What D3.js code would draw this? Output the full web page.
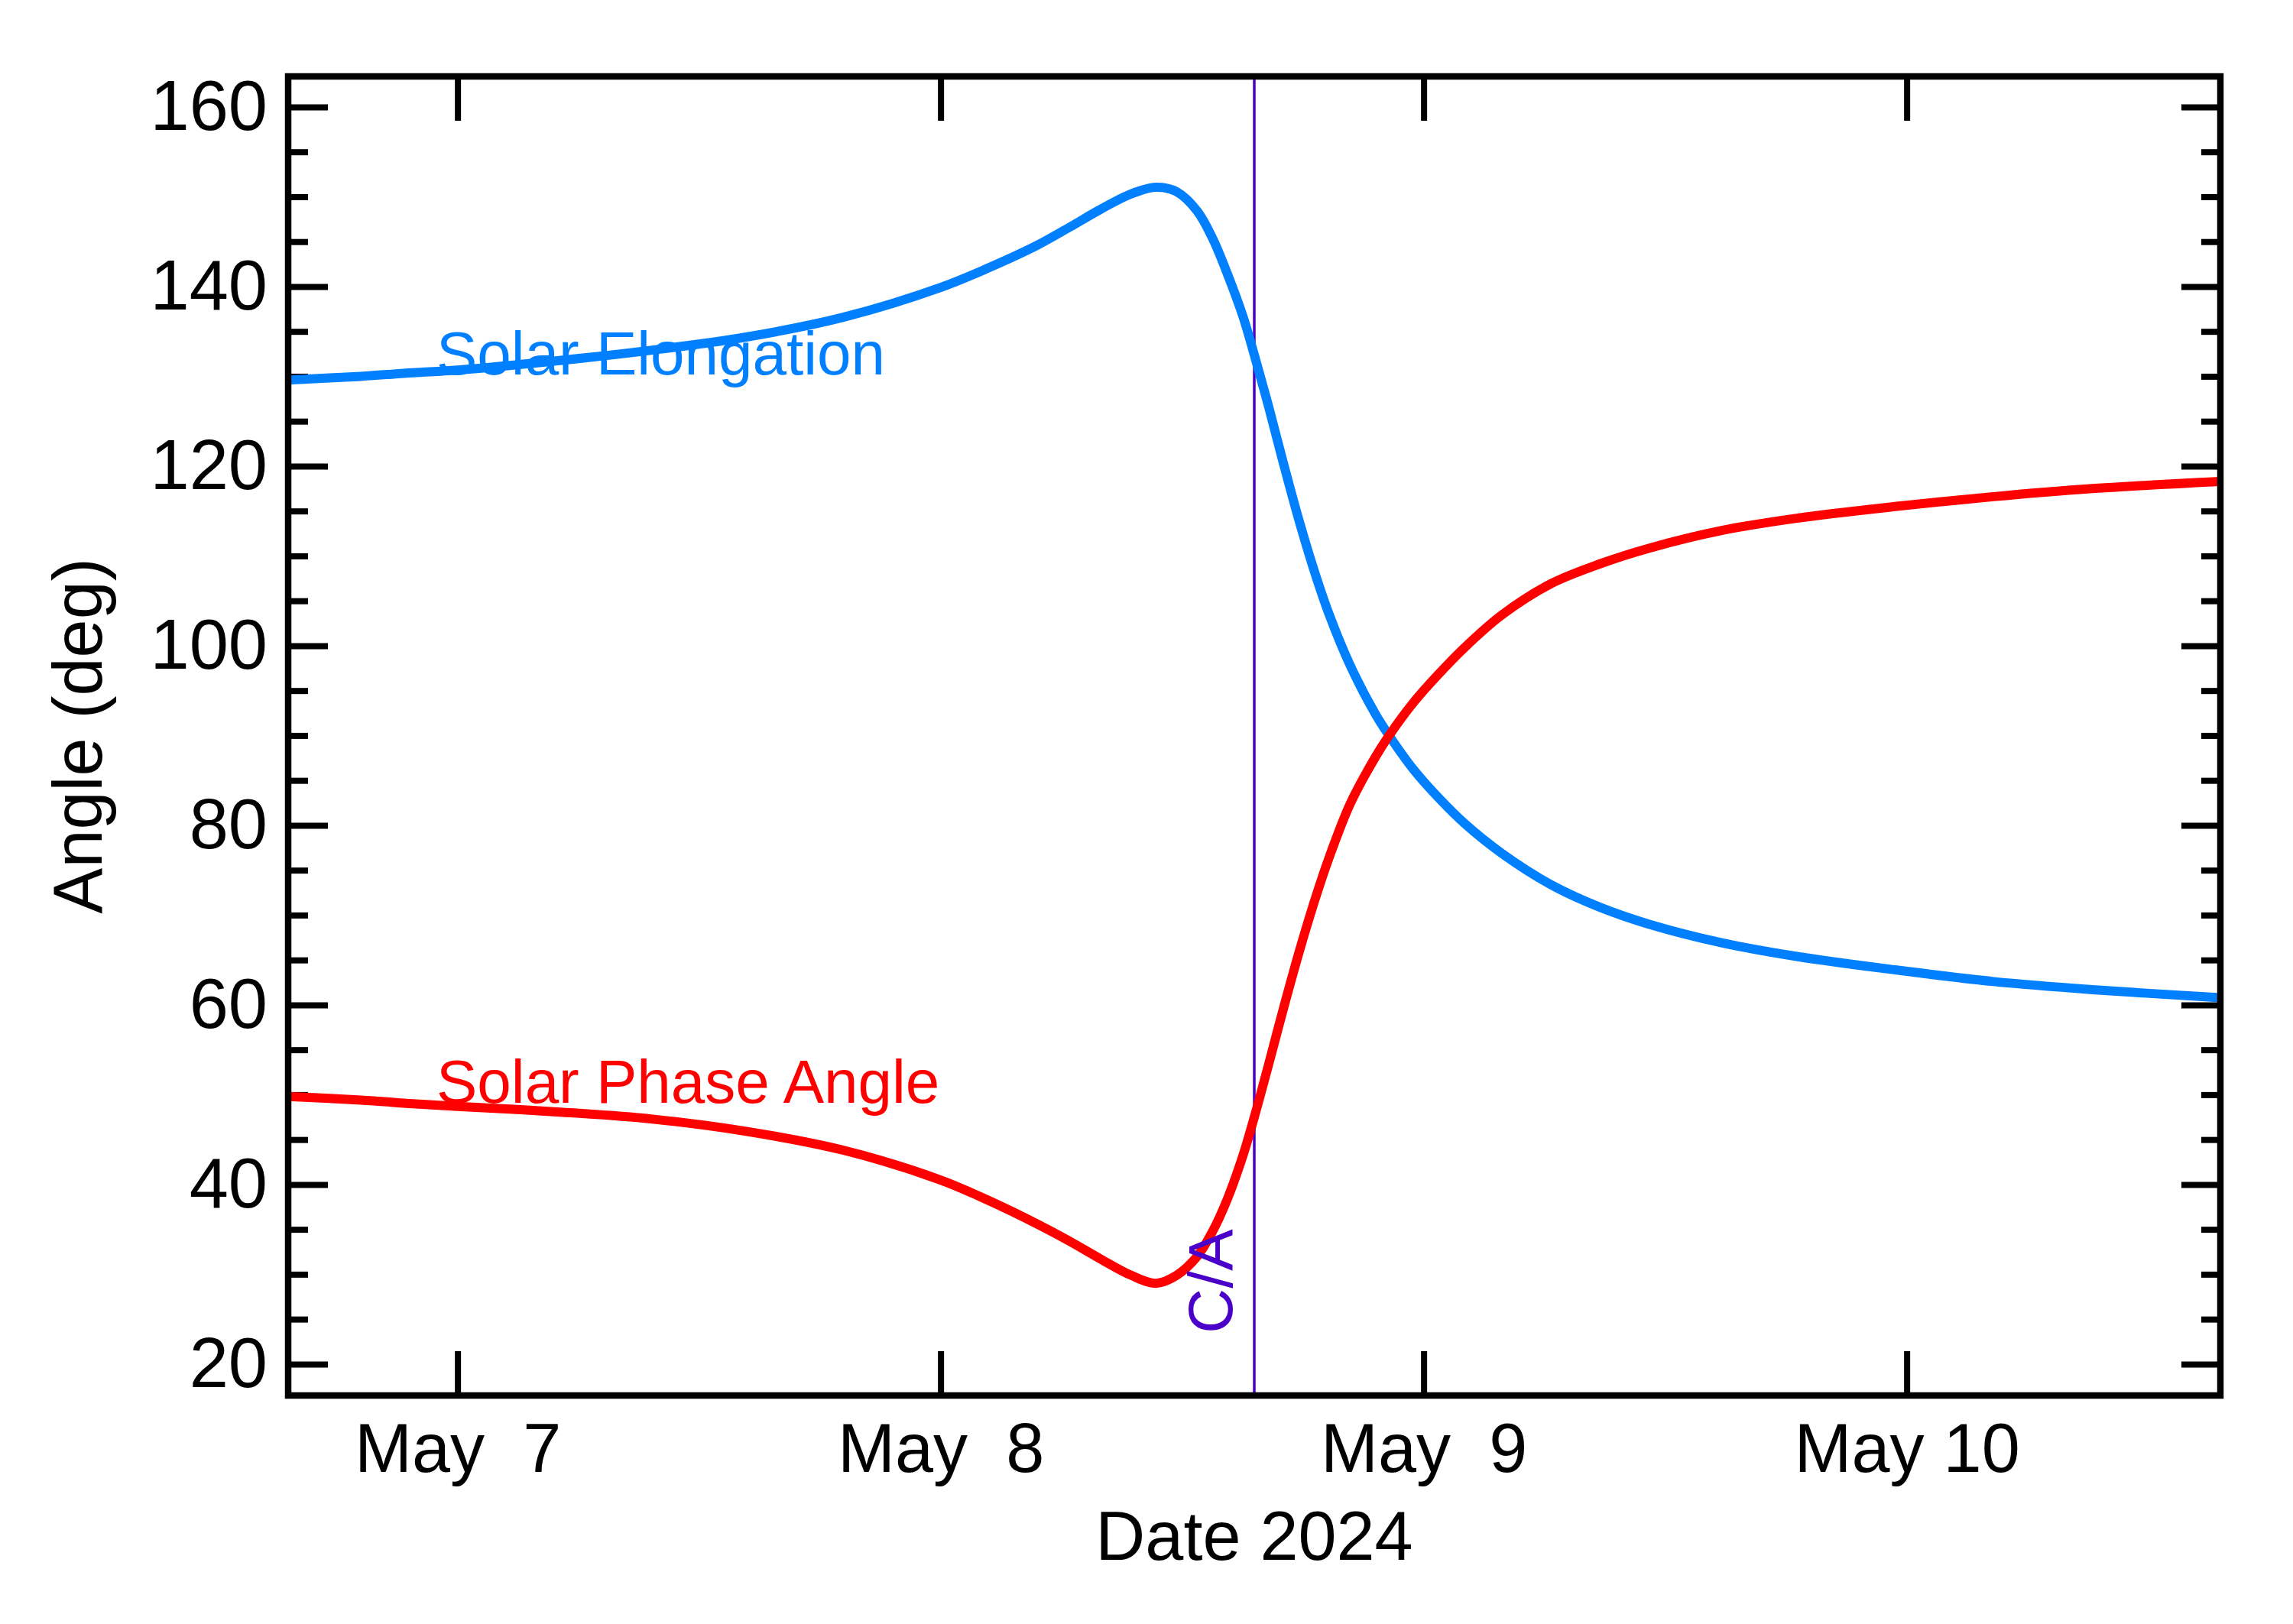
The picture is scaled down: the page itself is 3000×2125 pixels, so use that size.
<!DOCTYPE html>
<html>
<head>
<meta charset="utf-8">
<script src="https://cdn.jsdelivr.net/npm/d3@7"></script>
<style>
  html, body { margin: 0; padding: 0; background: #ffffff; }
  svg { display: block; }
  text { font-family: "Liberation Sans", Arial, Helvetica, sans-serif; }
</style>
</head>
<body>
<svg id="chart" width="3000" height="2125"></svg>
<script>
// ---------- data ----------
const times = [
  "2024-05-06T15:35Z","2024-05-06T19:12Z","2024-05-06T21:46Z","2024-05-07T00:00Z",
  "2024-05-07T04:48Z","2024-05-07T09:36Z","2024-05-07T14:24Z","2024-05-07T19:12Z",
  "2024-05-08T00:00Z","2024-05-08T02:24Z","2024-05-08T04:48Z","2024-05-08T06:24Z",
  "2024-05-08T07:57Z","2024-05-08T09:27Z","2024-05-08T10:42Z","2024-05-08T11:44Z",
  "2024-05-08T12:45Z","2024-05-08T13:31Z","2024-05-08T14:15Z","2024-05-08T15:01Z",
  "2024-05-08T15:35Z","2024-05-08T16:18Z","2024-05-08T17:02Z","2024-05-08T17:48Z",
  "2024-05-08T18:34Z","2024-05-08T19:19Z","2024-05-08T20:21Z","2024-05-08T21:36Z",
  "2024-05-08T22:15Z","2024-05-08T23:30Z","2024-05-09T00:46Z","2024-05-09T02:02Z",
  "2024-05-09T03:52Z","2024-05-09T06:19Z","2024-05-09T08:44Z","2024-05-09T11:11Z",
  "2024-05-09T14:51Z","2024-05-09T18:32Z","2024-05-09T23:25Z","2024-05-10T04:19Z",
  "2024-05-10T09:13Z","2024-05-10T15:35Z"
];
const solarElongation = [
  129.6,130.0,130.4,130.7,131.7,132.9,134.4,136.6,139.9,142.1,144.6,146.6,
  148.6,150.3,151.05,150.55,148.4,145.35,141.4,136.7,132.4,126.6,120.3,114.0,
  108.3,103.4,97.8,92.4,90.1,86.2,83.0,80.2,76.9,73.4,70.9,69.0,66.9,65.4,
  63.9,62.6,61.7,60.8
];
const solarPhaseAngle = [
  49.8,49.4,49.0,48.7,48.1,47.3,45.9,43.8,40.5,38.2,35.6,33.7,
  31.7,29.9,29.0,29.9,32.0,34.8,38.4,43.2,47.5,53.4,59.6,65.8,
  71.5,76.5,82.4,87.6,89.9,93.7,96.9,99.8,103.4,106.9,109.1,110.85,112.85,114.2,
  115.5,116.6,117.5,118.3
];
const timeDomain = ["2024-05-06T15:35Z", "2024-05-10T15:35Z"];
const closeApproach = "2024-05-08T15:35Z";
const xTickDates = ["2024-05-07T00:00Z","2024-05-08T00:00Z","2024-05-09T00:00Z","2024-05-10T00:00Z"];
const yDomain = [16.5, 163.4];
const yMajorTicks = [20, 40, 60, 80, 100, 120, 140, 160];
const yMinorTicks = d3.range(20, 161, 5).filter(v => v % 20 !== 0);
const seriesNames = ["Solar Elongation", "Solar Phase Angle"];
const xTitle = "Date 2024";
const yTitle = "Angle (deg)";
const caLabel = "C/A";

// ---------- layout ----------
const L = 377, R = 2905, T = 100, B = 1826;
const svg = d3.select("#chart");
const parse = d3.isoParse;

const x = d3.scaleUtc().domain(timeDomain.map(parse)).range([L, R]);
const y = d3.scaleLinear().domain(yDomain).range([B, T]);

const fmtX = d => {
  const day = d.getUTCDate();
  return "May " + (day < 10 ? " " + day : String(day));
};

function styleAxis(g, fs) {
  g.select(".domain").remove();
  g.selectAll(".tick line").attr("stroke", "#000").attr("stroke-width", 8);
  g.selectAll(".tick text").attr("fill", "#000").attr("font-size", fs)
    .attr("font-family", "'Liberation Sans', Arial, Helvetica, sans-serif")
    .attr("xml:space", "preserve").style("white-space", "pre");
}

svg.append("g").attr("transform", `translate(${L},0)`)
  .call(d3.axisLeft(y).tickValues(yMajorTicks).tickSize(-52).tickPadding(27).tickFormat(d3.format("d")))
  .call(g => styleAxis(g, 92));
svg.append("g").attr("transform", `translate(${L},0)`)
  .call(d3.axisLeft(y).tickValues(yMinorTicks).tickSize(-26).tickFormat(""))
  .call(g => styleAxis(g, 92));
svg.append("g").attr("transform", `translate(${R},0)`)
  .call(d3.axisRight(y).tickValues(yMajorTicks).tickSize(-51).tickFormat(""))
  .call(g => styleAxis(g, 92));
svg.append("g").attr("transform", `translate(${R},0)`)
  .call(d3.axisRight(y).tickValues(yMinorTicks).tickSize(-25).tickFormat(""))
  .call(g => styleAxis(g, 92));
svg.append("g").attr("transform", `translate(0,${B})`)
  .call(d3.axisBottom(x).tickValues(xTickDates.map(parse)).tickSize(-58).tickPadding(36).tickFormat(fmtX))
  .call(g => styleAxis(g, 90));
svg.append("g").attr("transform", `translate(0,${T})`)
  .call(d3.axisTop(x).tickValues(xTickDates.map(parse)).tickSize(-58).tickFormat(""))
  .call(g => styleAxis(g, 90));

// data lines
const rows = times.map((t, i) => ({ t: parse(t), e: solarElongation[i], p: solarPhaseAngle[i] }));
svg.append("clipPath").attr("id", "plotclip").append("rect")
  .attr("x", L).attr("y", T).attr("width", R - L).attr("height", B - T);

const curve = d3.curveCatmullRom.alpha(0.5);
const lineE = d3.line().x(d => x(d.t)).y(d => y(d.e)).curve(curve);
const lineP = d3.line().x(d => x(d.t)).y(d => y(d.p)).curve(curve);

const plot = svg.append("g").attr("clip-path", "url(#plotclip)");

plot.append("line")
  .attr("x1", x(parse(closeApproach))).attr("x2", x(parse(closeApproach)))
  .attr("y1", B).attr("y2", T)
  .attr("stroke", "#4a00c8").attr("stroke-width", 3.5);

plot.append("path").datum(rows).attr("d", lineE)
  .attr("fill", "none").attr("stroke", "#0080ff").attr("stroke-width", 12)
  .attr("stroke-linejoin", "round");
plot.append("path").datum(rows).attr("d", lineP)
  .attr("fill", "none").attr("stroke", "#ff0000").attr("stroke-width", 12)
  .attr("stroke-linejoin", "round");

// frame
svg.append("rect").attr("x", L).attr("y", T).attr("width", R - L).attr("height", B - T)
  .attr("fill", "none").attr("stroke", "#000").attr("stroke-width", 8.5);

// series labels
svg.append("text").attr("x", 571).attr("y", 490).attr("font-size", 80)
  .attr("fill", "#0080ff").text(seriesNames[0]);
svg.append("text").attr("x", 571).attr("y", 1443).attr("font-size", 80)
  .attr("fill", "#ff0000").text(seriesNames[1]);

// C/A label
svg.append("text")
  .attr("transform", `translate(${x(parse(closeApproach)) - 29},1745) rotate(-90)`)
  .attr("font-size", 82).attr("fill", "#4a00c8").attr("text-anchor", "start")
  .text(caLabel);

// axis titles
svg.append("text").attr("x", (L + R) / 2).attr("y", 2041).attr("text-anchor", "middle")
  .attr("font-size", 90).attr("fill", "#000").text(xTitle);
svg.append("text").attr("transform", `translate(133,${(T + B) / 2}) rotate(-90)`)
  .attr("text-anchor", "middle").attr("font-size", 90).attr("fill", "#000").text(yTitle);
</script>
</body>
</html>
